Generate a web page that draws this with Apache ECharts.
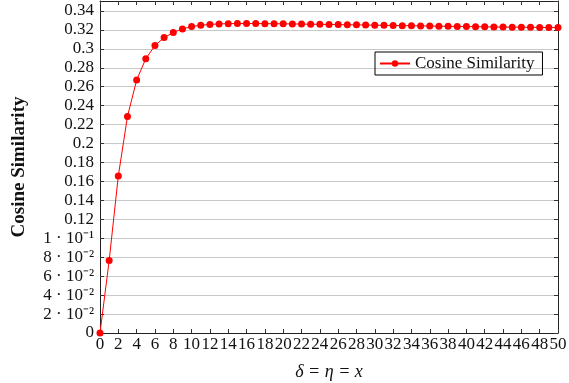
<!DOCTYPE html>
<html>
<head>
<meta charset="utf-8">
<script src="https://cdn.jsdelivr.net/npm/echarts@6/dist/echarts.min.js"></script>
<style>
html,body{margin:0;padding:0;background:#fff;}
#chart{width:569px;height:383px;}
</style>
</head>
<body>
<div id="chart"></div>
<script>
// x 取值 0..50
var xValues = [];
for (var i = 0; i <= 50; i++) { xValues.push(i); }
// 余弦相似度
var cosSim = [0, 0.0765, 0.1658, 0.2286, 0.267, 0.2896, 0.3034, 0.3119, 0.3172, 0.321,
    0.3235, 0.3249, 0.3258, 0.3263, 0.3266, 0.3267, 0.3267, 0.3267, 0.3266, 0.3265,
    0.3264, 0.3263, 0.3261, 0.326, 0.3259, 0.3257, 0.3256, 0.3254, 0.3253, 0.3251,
    0.325, 0.3248, 0.3247, 0.3245, 0.3244, 0.3242, 0.3241, 0.3239, 0.3238, 0.3236,
    0.3235, 0.3234, 0.3232, 0.3231, 0.323, 0.3229, 0.3228, 0.3227, 0.3226, 0.3225,
    0.3224];
// y 轴刻度标签
var yTickLabels = {
    '0': '0', '0.02': '2 · 10⁻²', '0.04': '4 · 10⁻²', '0.06': '6 · 10⁻²', '0.08': '8 · 10⁻²',
    '0.1': '1 · 10⁻¹', '0.12': '0.12', '0.14': '0.14', '0.16': '0.16', '0.18': '0.18',
    '0.2': '0.2', '0.22': '0.22', '0.24': '0.24', '0.26': '0.26', '0.28': '0.28',
    '0.3': '0.3', '0.32': '0.32', '0.34': '0.34'
};

var FONT = 'Liberation Serif';
var chart = echarts.init(document.getElementById('chart'));
var pts = xValues.map(function (x, i) { return [x, cosSim[i]]; });

var tickStyle = {show: true, inside: true, length: 4, lineStyle: {color: '#333', width: 1}};
var lineStyle = {show: true, onZero: false, lineStyle: {color: '#222', width: 1}};

var option = {
    animation: false,
    backgroundColor: '#fff',
    grid: {left: 100, right: 11, top: 1, bottom: 50, containLabel: false, outerBoundsMode: 'none'},
    legend: {
        data: ['Cosine Similarity'],
        left: 375, top: 52,
        borderColor: '#000', borderWidth: 1, borderRadius: 0,
        padding: [3, 8, 3, 4],
        itemWidth: 30, itemHeight: 8, itemGap: 4,
        textStyle: {fontFamily: FONT, fontSize: 17, color: '#111'}
    },
    xAxis: [{
        type: 'value', min: 0, max: 50, interval: 2,
        name: 'δ = η = x', nameLocation: 'middle', nameGap: 30,
        nameTextStyle: {fontFamily: FONT, fontSize: 18, fontStyle: 'italic', color: '#111'},
        axisLine: lineStyle, axisTick: tickStyle,
        axisLabel: {fontFamily: FONT, fontSize: 17, color: '#111', margin: 3, hideOverlap: false, showMaxLabel: true, showMinLabel: true},
        splitLine: {show: false}
    }, {
        type: 'value', position: 'top', min: 0, max: 50, interval: 2,
        axisLine: lineStyle, axisTick: tickStyle, axisLabel: {show: false}, splitLine: {show: false}
    }],
    yAxis: [{
        type: 'value', min: 0, max: 0.3505, interval: 0.02,
        name: 'Cosine Similarity', nameLocation: 'middle', nameGap: 71,
        nameTextStyle: {fontFamily: FONT, fontSize: 19, fontWeight: 'bold', color: '#111'},
        axisLine: lineStyle, axisTick: tickStyle,
        axisLabel: {
            fontFamily: FONT, fontSize: 17, color: '#111', margin: 6,
            showMaxLabel: false,
            formatter: function (v) {
                var k = (Math.round(v * 100) / 100).toString();
                return yTickLabels[k] !== undefined && Math.abs(v * 50 - Math.round(v * 50)) < 1e-6 ? yTickLabels[k] : '';
            }
        },
        splitLine: {show: true, lineStyle: {color: '#c8c8c8', width: 1}}
    }, {
        type: 'value', position: 'right', min: 0, max: 0.3505, interval: 0.02,
        axisLine: lineStyle, axisTick: tickStyle, axisLabel: {show: false}, splitLine: {show: false}
    }],
    series: [{
        name: 'Cosine Similarity',
        type: 'line',
        data: pts,
        symbol: 'circle', symbolSize: 7,
        itemStyle: {color: '#ff0000'},
        lineStyle: {color: '#ff0000', width: 1},
        clip: false
    }]
};
chart.setOption(option);
</script>
</body>
</html>
